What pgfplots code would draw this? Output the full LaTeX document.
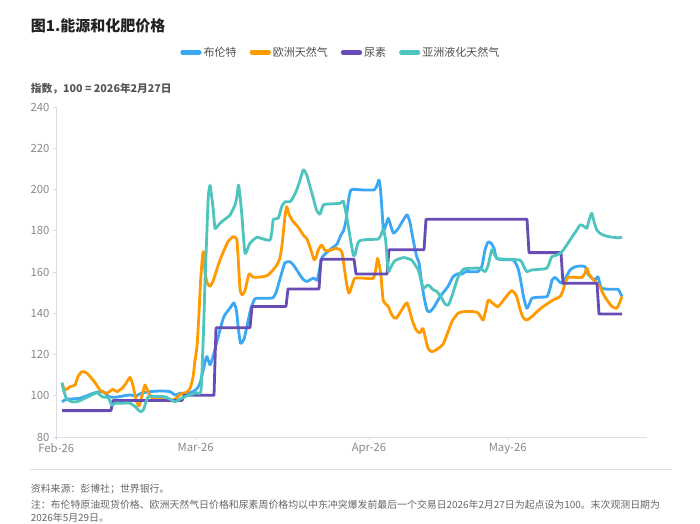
\documentclass[border=0pt]{standalone}
\usepackage{fontspec}
\setmainfont{Noto Sans CJK SC}
\usepackage{pgfplots}
\pgfplotsset{compat=1.18}
\definecolor{cBrent}{RGB}{59,167,245}
\definecolor{cGas}{RGB}{255,154,0}
\definecolor{cUrea}{RGB}{104,76,182}
\definecolor{cLNG}{RGB}{78,196,190}
\definecolor{titlec}{RGB}{34,34,34}
\definecolor{labc}{RGB}{85,85,85}
\definecolor{tickc}{RGB}{136,136,136}
\definecolor{legc}{RGB}{80,80,80}
\definecolor{footc}{RGB}{102,102,102}
\definecolor{axc}{RGB}{218,220,232}
\begin{document}
\begin{tikzpicture}[x=1pt,y=1pt]
\useasboundingbox (0,0) rectangle (700,523);
\fill[white] (0,0) rectangle (700,523);
\node[anchor=west,inner sep=0,font=\fontsize{15}{18}\selectfont\bfseries,text=titlec] at (30.7,497.5) {图1.能源和化肥价格};
\node[anchor=west,inner sep=0,font=\fontsize{10.7}{13}\selectfont\bfseries,text=labc] at (30.7,434) {指数，100 = 2026年2月27日};
\draw[axc,line width=0.8pt] (30,54) -- (672,54);
\node[anchor=west,inner sep=0,font=\fontsize{9.9}{12}\selectfont,text=footc] at (30.7,33.5) {资料来源：彭博社；世界银行。};
\node[anchor=west,inner sep=0,font=\fontsize{9.9}{12}\selectfont,text=footc] at (30.7,18.5) {注：布伦特原油现货价格、欧洲天然气日价格和尿素周价格均以中东冲突爆发前最后一个交易日2026年2月27日为起点设为100。末次观测日期为};
\node[anchor=west,inner sep=0,font=\fontsize{9.9}{12}\selectfont,text=footc] at (30.7,5) {2026年5月29日。};
\begin{axis}[
  at={(56pt,86pt)}, anchor=south west,
  scale only axis, width=591pt, height=330pt,
  xmin=56, xmax=647, ymin=80, ymax=240,
  axis x line*=bottom, axis y line*=left,
  axis line style={axc, line width=0.8pt},
  xtick={56.3,195.7,369,507.7},
  xticklabels={Feb-26,Mar-26,Apr-26,May-26},
  ytick={80,100,...,240},
  tick align=outside, major tick length=3pt,
  tick style={axc, line width=0.8pt},
  /pgf/number format/assume math mode=true,
  ticklabel style={font=\fontsize{11.3}{13}\selectfont, text=tickc},
  legend columns=4,
  legend style={at={(0.482,1.1658)}, anchor=center, draw=none, fill=none,
    font=\fontsize{11}{13}\selectfont, text=legc,
    /tikz/every even column/.append style={column sep=11pt}},
  legend image code/.code={\draw[#1, line width=4.5pt, line cap=round] (2.25pt,0pt) -- (19pt,0pt);},
  clip=false,
]
\addplot[cBrent, line width=2.8pt, smooth, tension=0.35, line join=round] coordinates {
(62,97.1)(66,98.2)(70,98.4)(76,98.6)(80,98.8)(87,100)(93,101.2)(98,101.8)(103,102)(106,100.8)(109,99.5)(116,99.3)(124,100)(130,100.4)(136,99.9)(141,101.2)(147,101.8)(155,102.2)(163,102.3)(170,102)(173,101)(176,100.3)(180,101.2)(186,101.2)(190,101.5)(194,102.3)(197,103.5)(200,106)(203,112)(206.7,119)(210,115)(213,119)(216,124.5)(220,132)(224,138.5)(230,142.5)(234,145)(236.5,141)(238.5,132)(240.5,125.5)(244,127.5)(248,136)(251,142.5)(255,147)(262,147.3)(268,147.3)(273,147.5)(276,150)(279,155)(282,160)(285,164.5)(290,165)(294,163)(298,160)(303,156.5)(307,155.4)(311,156.5)(314,157)(317,156)(319,160)(322,167)(328,170)(333,172)(337,173.5)(341,178)(343.5,180)(346,185)(348,193)(351,199.8)(362,199.8)(374,199.8)(377,202)(379,204.6)(380.5,200)(382,190)(383.5,180)(386,183)(388.3,186)(391,182)(393.5,178.8)(398,181)(403,185)(407,187.7)(410,184)(413,176)(416.7,167.4)(419,164.5)(421,157)(424,148)(427,141.5)(430,140.8)(434,143)(440,148)(444,150.5)(448,153)(453,157.7)(458,159.2)(462,159)(466,160.2)(478,160.2)(482,163)(485,170.7)(488,174.5)(491,174)(494,171.5)(496.7,166.6)(505,166)(513,165.8)(516,164)(518.5,161)(521,155)(523.5,148)(526.7,142.4)(529,144)(532,147.3)(540,147.8)(547,148.1)(550,152)(552,156)(555,157.4)(558,156)(561.7,154.5)(566,157.5)(570,161)(575,162.5)(580,162.9)(585,162.6)(588,159)(592,157)(595,156.1)(598,157.7)(601,152.5)(605,151.8)(612,151.6)(618,151.6)(620,150)(622,148.1)
};
\addlegendentry{布伦特}
\addplot[cGas, line width=2.8pt, smooth, tension=0.35, line join=round] coordinates {
(62,106)(65,102.8)(70,104.4)(75,105.2)(78,109.3)(82,111.7)(87,110.9)(93,107.6)(97,105)(100,102.8)(105,101.2)(108,101.5)(113,103.1)(117,102)(122,103.6)(126,106)(130,108.9)(133,105)(136,98)(139,95)(142,100)(145,105.2)(148,102)(153,98.4)(160,98.4)(165,98)(170,97.4)(175,98.4)(181,101)(186,101.5)(190,103.5)(193,109)(195,117)(197,124)(199,140)(200.5,155)(202,165)(203.3,169.9)(205,160)(207,155)(210,153)(213,155.5)(216,160)(220,165.8)(224,170.5)(228,174.7)(233,177.1)(236.7,176)(238,168)(240,152)(242,148.9)(245,151)(249,159)(253,157.5)(258,157.5)(263,157.7)(268,158.5)(273,161)(277,163.5)(280,167)(282,173)(283.5,180)(285,187)(286.7,191.7)(289,188)(293,184.5)(297,182.5)(300,180.4)(304,177.5)(307,176)(311,170.5)(314,166)(316,167)(318.3,170.7)(321.7,173.1)(325,170.5)(330,170.5)(336.7,171.5)(341.7,169.9)(344,163)(346.7,154)(349,149.7)(352,153.5)(355,157)(364,157)(373.3,157)(376,162)(377.5,166.6)(379,164)(381,158)(383.3,146)(388,143.5)(392,139)(396,137.5)(401,141)(407,145)(412,137)(416,132)(420,130.5)(423,132.5)(428,123)(432,121.4)(437,122.5)(443,125)(448,131)(452,136)(458,140)(464,140.8)(473,140.8)(478,140.2)(481,138)(483.3,136.7)(486,142)(488.3,146.4)(493,144.8)(498,143.2)(505,147.3)(511.7,151)(516.7,148.1)(520,142)(523,138)(526.7,136.7)(531.7,138.3)(537,140.8)(543,143.2)(553,146.4)(560,148.1)(563,151)(565,154.5)(568,157.4)(575,157.4)(582,157.4)(585,159.5)(587,161.8)(589,159)(592,157)(595,155.4)(600,152.9)(603,149.5)(607,146.4)(612,143.2)(616.7,142.4)(619.3,144.8)(622,148.1)
};
\addlegendentry{欧洲天然气}
\addplot[cUrea, line width=2.8pt, line join=round] coordinates {
(62,92.8)(111,92.8)(113,97.7)(182,97.7)(184,100.2)(214,100.2)(216,133)(250,133)(252,143.3)(286,143.3)(288,151.8)(319,151.8)(321,166.2)(354,166.2)(356,159)(387,159)(389,170.8)(424,170.8)(426,185.6)(527,185.6)(529,169.4)(561,169.4)(563,154.5)(597,154.5)(599,139.6)(622,139.6)
};
\addlegendentry{尿素}
\addplot[cLNG, line width=2.8pt, smooth, tension=0.35, line join=round] coordinates {
(62,106.4)(64,102)(66.7,98.4)(71.7,97.1)(76.7,97.1)(83.3,98.4)(91.7,100.4)(96.7,101.5)(100,100.4)(103.3,99.3)(108.3,99.1)(111.7,95.5)(115,96.4)(122,96.4)(130,96.4)(135,94.8)(140,92.4)(143.3,93.1)(148.3,99.6)(156,99.6)(163.3,99.6)(168.3,98.8)(175,97.1)(180,98.4)(186.7,99.9)(193,100.8)(197,101.5)(201,102.5)(203.3,128.6)(205,155)(206.7,177.1)(208.3,196.6)(210,202)(211.7,196.6)(213.3,190)(215,181.2)(218,182.5)(221.7,184.4)(226,186)(230,187.6)(235,192.5)(237,197)(238.5,202.2)(240,197)(241.7,188.5)(243.5,177)(245,169)(247.5,171)(250,174)(256.7,176.8)(263,176)(270,175.5)(272,180)(273.3,185.5)(278.3,186.1)(281.7,191.7)(285,194)(290,194.1)(293,196)(296.7,199.8)(300,204.5)(303.3,209.5)(306.7,207.1)(310,201.4)(313.3,195.8)(316.5,190)(320,188)(323.3,192.5)(330,193)(340,193.3)(343.3,194.3)(346.7,186.9)(350,177.1)(353.3,168.2)(355,168.5)(358.3,174.5)(362,175.5)(370,175.8)(378.3,176)(381,178)(383.3,180.7)(385.5,176)(386.7,169.1)(388.3,160.2)(391,162.5)(395,165.5)(403.3,167)(408,166.5)(411.7,165.8)(415,163.5)(418.3,161)(421,156)(423.3,152.1)(428.3,153.7)(433.3,151.3)(437,150.5)(441.7,147.3)(445,144.5)(448.3,144)(451.7,148)(455,153)(458.3,157.7)(463.3,161.3)(470,161.8)(480,161.8)(485,160.2)(488,163)(491.7,170.7)(494,169)(496.7,166.6)(505,166.2)(520,165.8)(523,163.5)(526.7,160.2)(531.7,161)(540,161.3)(546.7,161.8)(549,164)(551.7,167.4)(556.7,168.2)(560,169)(563.3,170.7)(568,174)(573.3,177.9)(577,180.5)(580,182.8)(583,182.5)(586.7,181.2)(589,185)(591.7,188.5)(594,184.5)(596.7,180.4)(600,178.8)(603.3,177.9)(608,177.2)(613.3,176.8)(618,176.6)(622,176.8)
};
\addlegendentry{亚洲液化天然气}
\end{axis}
\end{tikzpicture}
\end{document}
